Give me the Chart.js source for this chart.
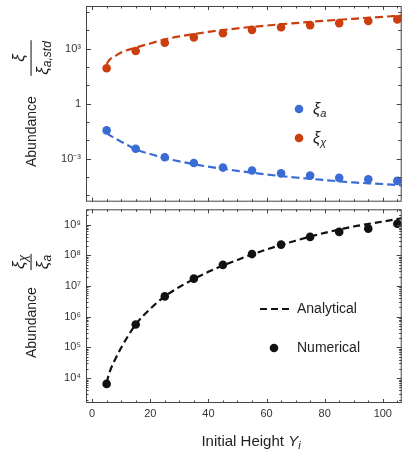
<!DOCTYPE html>
<html>
<head>
<meta charset="utf-8">
<script src="https://cdn.jsdelivr.net/npm/chart.js@4"></script>
<style>
  body { margin: 0; background: #fff; }
  #wrap { position: relative; width: 406px; height: 450px; }
  canvas { position: absolute; left: 0; }
</style>
</head>
<body>
<div id="wrap">
  <canvas id="topChart" width="406" height="206" style="top:0"></canvas>
  <canvas id="botChart" width="406" height="245" style="top:205px"></canvas>
</div>
<script>
// values
const xPoints = [5, 15, 25, 35, 45, 55, 65, 75, 85, 95, 105];
const xCurve = [5, 6, 8, 10, 15, 20, 25, 30, 40, 50, 60, 70, 80, 90, 100, 106.5];

const xiChiNum = [85, 740, 2.1e3, 4.1e3, 6.9e3, 1.05e4, 1.45e4, 1.9e4, 2.45e4, 3.2e4, 3.9e4];
const xiANum = [3.5e-2, 3.5e-3, 1.2e-3, 5.9e-4, 3.3e-4, 2.3e-4, 1.6e-4, 1.2e-4, 9.1e-5, 7.6e-5, 6.2e-5];
const xiChiAna = [145, 245, 400, 620, 1.12e3, 1.9e3, 3.2e3, 4.6e3, 8.1e3, 1.26e4, 1.8e4, 2.45e4, 3.3e4, 4.2e4, 5.4e4, 6.3e4];
const xiAAna = [2.6e-2, 1.95e-2, 1.26e-2, 8.5e-3, 3.3e-3, 1.8e-3, 1.07e-3, 7.2e-4, 3.7e-4, 2.2e-4, 1.38e-4, 9.5e-5, 6.9e-5, 5.1e-5, 4.2e-5, 3.5e-5];

const ratioNum = [6.5e3, 5.6e5, 4.6e6, 1.74e7, 4.9e7, 1.1e8, 2.24e8, 4.0e8, 5.8e8, 7.4e8, 1.07e9];
const ratioAna = [7.1e3, 1.55e4, 4.2e4, 9.8e4, 5.6e5, 1.8e6, 4.6e6, 9.3e6, 2.9e7, 7.1e7, 1.55e8, 3.0e8, 5.4e8, 8.7e8, 1.26e9, 1.62e9];

const xTickLabels = [0, 20, 40, 60, 80, 100];
const topDecades = [-5, -4, -3, -2, -1, 0, 1, 2, 3, 4, 5];
const topLabels = { '-3': '10⁻³', '0': '1', '3': '10³' };
const botDecades = [4, 5, 6, 7, 8, 9];
const botLabels = ['10⁴', '10⁵', '10⁶', '10⁷', '10⁸', '10⁹'];

const BLUE = '#3b6bd5';
const RED = '#cb3e0d';
const BLACK = '#111111';
const FRAME = '#444444';
const FONT = '"Liberation Sans", Arial, sans-serif';

Chart.defaults.font.family = FONT;
Chart.defaults.color = '#333';

function pts(xs, ys) {
  return xs.map((x, i) => ({ x: x, y: ys[i] }));
}

function runs(ctx, parts, x, y) {
  let cx = x;
  for (const [t, f, dy] of parts) {
    ctx.font = f;
    ctx.fillText(t, cx, y + dy);
    cx += ctx.measureText(t).width;
  }
  return cx - x;
}
function runsWidth(ctx, parts) {
  let w = 0;
  for (const [t, f] of parts) { ctx.font = f; w += ctx.measureText(t).width; }
  return w;
}

const XI = 'italic 16px ' + FONT;
const SUB = 'italic 11px ' + FONT;
const XI_T = 'italic 17px ' + FONT;
const SUB_T = 'italic 12px ' + FONT;

// rotated y title: "Abundance" + fraction
function yTitle(ctx, abStart, fracCenter, num, den) {
  ctx.save();
  ctx.fillStyle = '#222';
  ctx.textBaseline = 'alphabetic';
  ctx.rotate(-Math.PI / 2);
  // local u = -screenY, local v = screenX
  runs(ctx, [['Abundance', '14px ' + FONT, 0]], -abStart, 36);
  const wN = runsWidth(ctx, num), wD = runsWidth(ctx, den);
  const wF = Math.max(wN, wD) + 2;
  const u0 = -fracCenter - wF / 2;
  ctx.fillRect(u0, 30.5, wF, 1.1);
  runs(ctx, num, u0 + (wF - wN) / 2, 24);
  runs(ctx, den, u0 + (wF - wD) / 2, 48);
  ctx.restore();
}

function drawFrame(chart, yTicks) {
  const { ctx, chartArea: a, scales } = chart;
  const x = scales.x, y = scales.y;
  ctx.save();
  ctx.strokeStyle = FRAME;
  ctx.lineWidth = 1;
  ctx.strokeRect(a.left + 0.5, a.top + 0.5, a.right - a.left - 1, a.bottom - a.top - 1);
  ctx.beginPath();
  for (let v = 0; v <= 105; v += 5) {
    const px = Math.round(x.getPixelForValue(v)) + 0.5;
    const len = v % 20 === 0 ? 4 : 2.5;
    ctx.moveTo(px, a.bottom); ctx.lineTo(px, a.bottom - len);
    ctx.moveTo(px, a.top); ctx.lineTo(px, a.top + len);
  }
  for (const t of yTicks) {
    const py = Math.round(y.getPixelForValue(t.v)) + 0.5;
    ctx.moveTo(a.left, py); ctx.lineTo(a.left + t.len, py);
    ctx.moveTo(a.right, py); ctx.lineTo(a.right - t.len, py);
  }
  ctx.stroke();
  ctx.restore();
}

function legendDot(ctx, x, y, color) {
  ctx.fillStyle = color;
  ctx.beginPath();
  ctx.arc(x, y, 4.3, 0, Math.PI * 2);
  ctx.fill();
}

const fixPad = s => { s.paddingTop = 0; s.paddingBottom = 0; s.paddingLeft = 0; s.paddingRight = 0; };

// ---------- top panel ----------
const topTicks = topDecades.map(e => ({ v: Math.pow(10, e), len: e % 3 === 0 ? 5 : 3.5 }));

new Chart(document.getElementById('topChart'), {
  type: 'scatter',
  data: {
    datasets: [
      { data: pts(xCurve, xiChiAna), showLine: true, pointRadius: 0, borderColor: RED, borderWidth: 2.2, borderDash: [8, 4], cubicInterpolationMode: 'monotone', order: 2 },
      { data: pts(xCurve, xiAAna), showLine: true, pointRadius: 0, borderColor: BLUE, borderWidth: 2.2, borderDash: [8, 4], cubicInterpolationMode: 'monotone', order: 2 },
      { data: pts(xPoints, xiChiNum), pointRadius: 4.3, backgroundColor: RED, borderWidth: 0, order: 1 },
      { data: pts(xPoints, xiANum), pointRadius: 4.3, backgroundColor: BLUE, borderWidth: 0, order: 1 }
    ]
  },
  options: {
    responsive: false,
    animation: false,
    events: [],
    layout: { padding: { top: 6, right: 1, bottom: 1, left: 0 } },
    plugins: { legend: { display: false }, tooltip: { enabled: false } },
    scales: {
      x: { type: 'linear', min: -2.1, max: 106.5, display: false },
      y: {
        type: 'logarithmic',
        min: Math.pow(10, -5.34), max: Math.pow(10, 5.32),
        afterBuildTicks: s => { s.ticks = topDecades.map(e => ({ value: Math.pow(10, e) })); },
        afterFit: s => { s.width = 86; fixPad(s); },
        grid: { display: false, drawTicks: false },
        border: { display: false },
        ticks: {
          autoSkip: false, padding: 5, color: '#333', font: { size: 11 },
          callback: v => topLabels[String(Math.round(Math.log10(v)))] || ''
        }
      }
    }
  },
  plugins: [{
    id: 'decor',
    afterDraw(chart) {
      const ctx = chart.ctx;
      drawFrame(chart, topTicks);
      yTitle(ctx, 167, 58,
        [['ξ', XI_T, 0]],
        [['ξ', XI_T, 0], ['a,std', SUB_T, 3]]);
      ctx.save();
      legendDot(ctx, 299, 109, BLUE);
      legendDot(ctx, 299, 138, RED);
      ctx.fillStyle = '#222';
      runs(ctx, [['ξ', XI, 0], ['a', SUB, 3]], 313, 114);
      runs(ctx, [['ξ', XI, 0], ['χ', SUB, 3]], 313, 143);
      ctx.restore();
    }
  }]
});

// ---------- bottom panel ----------
const botTicks = [];
for (let e = 3; e <= 9; e++) {
  for (let m = 1; m <= 9; m++) {
    const v = m * Math.pow(10, e);
    if (v >= Math.pow(10, 3.19) && v <= Math.pow(10, 9.5)) botTicks.push({ v: v, len: m === 1 ? 5 : 2.5 });
  }
}

new Chart(document.getElementById('botChart'), {
  type: 'scatter',
  data: {
    datasets: [
      { data: pts(xCurve, ratioAna), showLine: true, pointRadius: 0, borderColor: BLACK, borderWidth: 2.2, borderDash: [7, 4], cubicInterpolationMode: 'monotone', order: 2 },
      { data: pts(xPoints, ratioNum), pointRadius: 4.3, backgroundColor: BLACK, borderWidth: 0, order: 1 }
    ]
  },
  options: {
    responsive: false,
    animation: false,
    events: [],
    layout: { padding: { top: 0, right: 1, bottom: 0, left: 0 } },
    plugins: { legend: { display: false }, tooltip: { enabled: false } },
    scales: {
      x: {
        type: 'linear', min: -2.1, max: 106.5,
        afterBuildTicks: s => { s.ticks = xTickLabels.map(v => ({ value: v })); },
        afterFit: s => { s.height = 47; fixPad(s); },
        grid: { display: false, drawTicks: false },
        border: { display: false },
        ticks: { autoSkip: false, maxRotation: 0, padding: 4, color: '#333', font: { size: 11 } }
      },
      y: {
        type: 'logarithmic',
        min: Math.pow(10, 3.19), max: Math.pow(10, 9.5),
        afterBuildTicks: s => { s.ticks = botDecades.map(e => ({ value: Math.pow(10, e) })); },
        afterFit: s => { s.width = 86; fixPad(s); },
        grid: { display: false, drawTicks: false },
        border: { display: false },
        ticks: {
          autoSkip: false, padding: 5, color: '#333', font: { size: 11 },
          callback: v => botLabels[botDecades.indexOf(Math.round(Math.log10(v)))] || ''
        }
      }
    }
  },
  plugins: [{
    id: 'decor',
    afterDraw(chart) {
      const ctx = chart.ctx;
      drawFrame(chart, botTicks);
      yTitle(ctx, 153, 57,
        [['ξ', XI_T, 0], ['χ', SUB_T, 3]],
        [['ξ', XI_T, 0], ['a', SUB_T, 3]]);
      ctx.save();
      // legend
      ctx.strokeStyle = BLACK;
      ctx.lineWidth = 2.2;
      ctx.setLineDash([7, 4]);
      ctx.beginPath();
      ctx.moveTo(260, 104); ctx.lineTo(289, 104);
      ctx.stroke();
      ctx.setLineDash([]);
      legendDot(ctx, 274, 143, BLACK);
      ctx.fillStyle = '#222';
      ctx.textBaseline = 'middle';
      ctx.font = '14px ' + FONT;
      ctx.fillText('Analytical', 297, 104);
      ctx.fillText('Numerical', 297, 143);
      // x title
      ctx.textBaseline = 'alphabetic';
      const title = [['Initial Height ', '15px ' + FONT, 0], ['Y', 'italic 15px ' + FONT, 0], ['i', SUB, 3]];
      const w = runsWidth(ctx, title);
      runs(ctx, title, 251 - w / 2, 241);
      ctx.restore();
    }
  }]
});
</script>
</body>
</html>
